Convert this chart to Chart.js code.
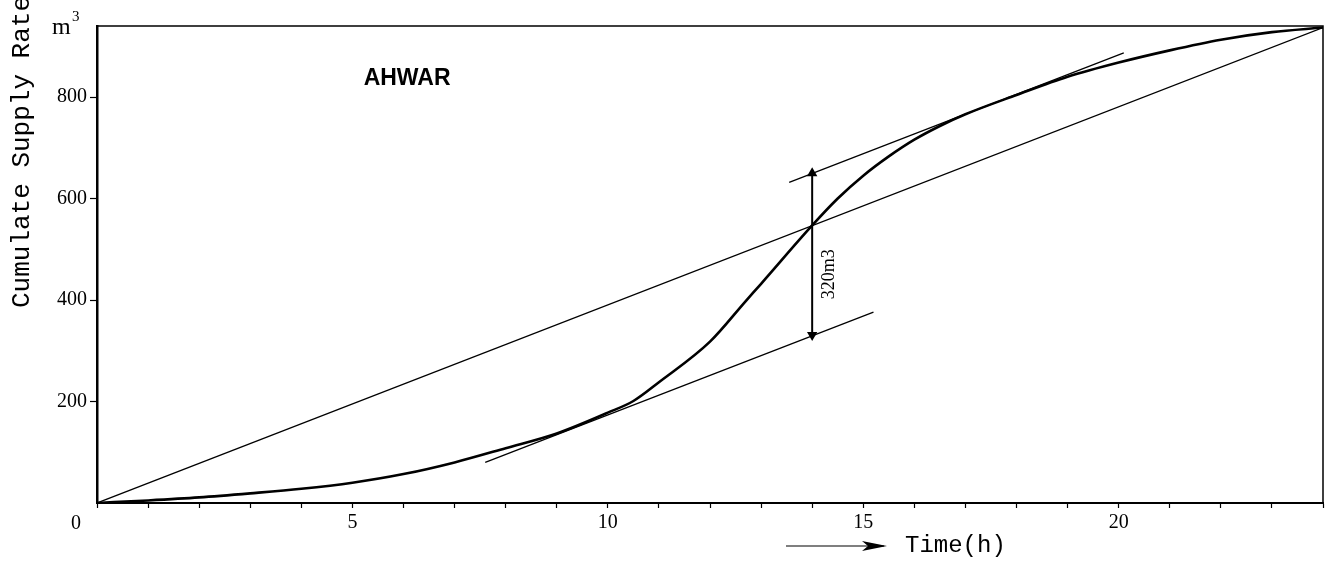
<!DOCTYPE html>
<html lang="en">
<head>
    <meta charset="UTF-8">
    <title>AHWAR - Cumulate Supply Rate</title>
    <script src="https://cdn.jsdelivr.net/npm/chart.js"></script>
    <style>
        body {
            margin: 0;
            padding: 0;
            background-color: #ffffff;
        }
        canvas {
            display: block;
        }
    </style>
</head>
<body>
    <canvas id="supplyChart" width="1329" height="567"></canvas>

    <script>
        // cumulative supply curve (hours, m3)
        const curveHours = [0, 1, 2, 3, 4, 5, 6, 7, 8, 9, 10, 10.5, 11, 12, 12.7, 13, 14, 14.5, 15, 15.5, 16, 16.5, 17, 18, 19, 20, 21, 22, 23, 24];
        const curveValues = [0, 5, 11, 19, 28, 40, 57, 80, 108, 137, 178, 201, 238, 318, 398, 432, 547, 600, 645, 683, 716, 743, 766, 804, 840, 868, 892, 913, 928, 937];

        // average supply line
        const averageHours = [0, 24];
        const averageValues = [0, 937];

        // tangent lines parallel to the average
        const lowerTangentHours = [7.6, 15.2];
        const lowerTangentValues = [80, 376];
        const upperTangentHours = [13.55, 20.1];
        const upperTangentValues = [632, 887];

        // storage arrow at 14 h
        const arrowHours = [14, 14];
        const arrowValues = [331, 650];

        const yTicks = [200, 400, 600, 800];
        const xLabelled = [5, 10, 15, 20];

        const toPoints = (xs, ys) => xs.map((x, i) => ({ x: x, y: ys[i] }));

        const textPlugin = {
            id: 'textPlugin',
            afterDraw(chart) {
                const ctx = chart.ctx;
                const area = chart.chartArea;
                const xs = chart.scales.x;
                const ys = chart.scales.y;
                ctx.save();
                ctx.fillStyle = '#000';
                ctx.strokeStyle = '#000';

                // frame top and right
                ctx.lineWidth = 1.5;
                ctx.beginPath();
                ctx.moveTo(area.left, area.top);
                ctx.lineTo(area.right, area.top);
                ctx.lineTo(area.right, area.bottom);
                ctx.stroke();

                // station name
                ctx.font = 'bold 23px "Liberation Sans", Arial, sans-serif';
                ctx.textAlign = 'center';
                ctx.textBaseline = 'middle';
                ctx.fillText('AHWAR', xs.getPixelForValue(6.07), ys.getPixelForValue(837));

                // 320m3 label
                ctx.save();
                ctx.translate(xs.getPixelForValue(14.34), ys.getPixelForValue(451));
                ctx.rotate(-Math.PI / 2);
                ctx.font = '18px "Liberation Serif", serif';
                ctx.fillText('320m3', 0, 0);
                ctx.restore();

                // unit label m3
                ctx.font = '24px "Liberation Serif", serif';
                ctx.textAlign = 'left';
                ctx.fillText('m', 52, 28);
                ctx.font = '15px "Liberation Serif", serif';
                ctx.fillText('3', 72, 17);

                // origin label
                ctx.font = '20px "Liberation Serif", serif';
                ctx.textAlign = 'center';
                ctx.fillText('0', 76, 524);

                // y axis title
                ctx.save();
                ctx.translate(22, 152);
                ctx.rotate(-Math.PI / 2);
                ctx.font = '26px "Liberation Mono", "Courier New", monospace';
                ctx.textAlign = 'center';
                ctx.fillText('Cumulate Supply Rate', 0, 0);
                ctx.restore();

                // x axis title with arrow
                ctx.lineWidth = 1.2;
                ctx.beginPath();
                ctx.moveTo(786, 546);
                ctx.lineTo(884, 546);
                ctx.stroke();
                ctx.beginPath();
                ctx.moveTo(887, 546);
                ctx.lineTo(862, 541);
                ctx.lineTo(868, 546);
                ctx.lineTo(862, 551);
                ctx.closePath();
                ctx.fill();
                ctx.font = '24px "Liberation Mono", "Courier New", monospace';
                ctx.textAlign = 'left';
                ctx.fillText('Time(h)', 905, 546);

                ctx.restore();
            }
        };

        const lineStyle = {
            showLine: true,
            pointRadius: 0,
            borderColor: '#000',
            fill: false
        };

        new Chart(document.getElementById('supplyChart'), {
            type: 'scatter',
            data: {
                datasets: [
                    Object.assign({}, lineStyle, {
                        label: 'Cumulative supply',
                        data: toPoints(curveHours, curveValues),
                        borderWidth: 2.6,
                        tension: 0.4,
                        cubicInterpolationMode: 'monotone'
                    }),
                    Object.assign({}, lineStyle, {
                        label: 'Average',
                        data: toPoints(averageHours, averageValues),
                        borderWidth: 1.3
                    }),
                    Object.assign({}, lineStyle, {
                        label: 'Lower tangent',
                        data: toPoints(lowerTangentHours, lowerTangentValues),
                        borderWidth: 1.3
                    }),
                    Object.assign({}, lineStyle, {
                        label: 'Upper tangent',
                        data: toPoints(upperTangentHours, upperTangentValues),
                        borderWidth: 1.3
                    }),
                    Object.assign({}, lineStyle, {
                        label: 'Storage',
                        data: toPoints(arrowHours, arrowValues),
                        borderWidth: 2,
                        pointStyle: 'triangle',
                        pointRadius: 4,
                        pointRotation: [180, 0],
                        pointBackgroundColor: '#000',
                        pointBorderColor: '#000'
                    })
                ]
            },
            options: {
                responsive: false,
                animation: false,
                devicePixelRatio: 1,
                layout: {
                    padding: { top: 26, right: 6, left: 0, bottom: 0 }
                },
                plugins: {
                    legend: { display: false },
                    tooltip: { enabled: false }
                },
                scales: {
                    x: {
                        type: 'linear',
                        min: 0,
                        max: 24,
                        afterFit: s => { s.height = 64; },
                        afterBuildTicks: s => {
                            s.ticks = [];
                            for (let h = 0; h <= 24; h++) s.ticks.push({ value: h });
                        },
                        ticks: {
                            autoSkip: false,
                            maxRotation: 0,
                            color: '#000',
                            padding: 3,
                            font: { family: '"Liberation Serif", serif', size: 20 },
                            callback: v => xLabelled.includes(v) ? String(v) : ''
                        },
                        grid: {
                            drawOnChartArea: false,
                            color: '#000',
                            tickLength: 5,
                            tickWidth: 1.2
                        },
                        border: { color: '#000', width: 2 }
                    },
                    y: {
                        type: 'linear',
                        min: 0,
                        max: 940,
                        afterFit: s => { s.width = 97; },
                        afterBuildTicks: s => {
                            s.ticks = yTicks.map(v => ({ value: v }));
                        },
                        ticks: {
                            color: '#000',
                            padding: 3,
                            font: { family: '"Liberation Serif", serif', size: 20 }
                        },
                        grid: {
                            drawOnChartArea: false,
                            color: '#000',
                            tickLength: 7,
                            tickWidth: 1.2
                        },
                        border: { color: '#000', width: 2.5 }
                    }
                }
            },
            plugins: [textPlugin]
        });
    </script>
</body>
</html>
